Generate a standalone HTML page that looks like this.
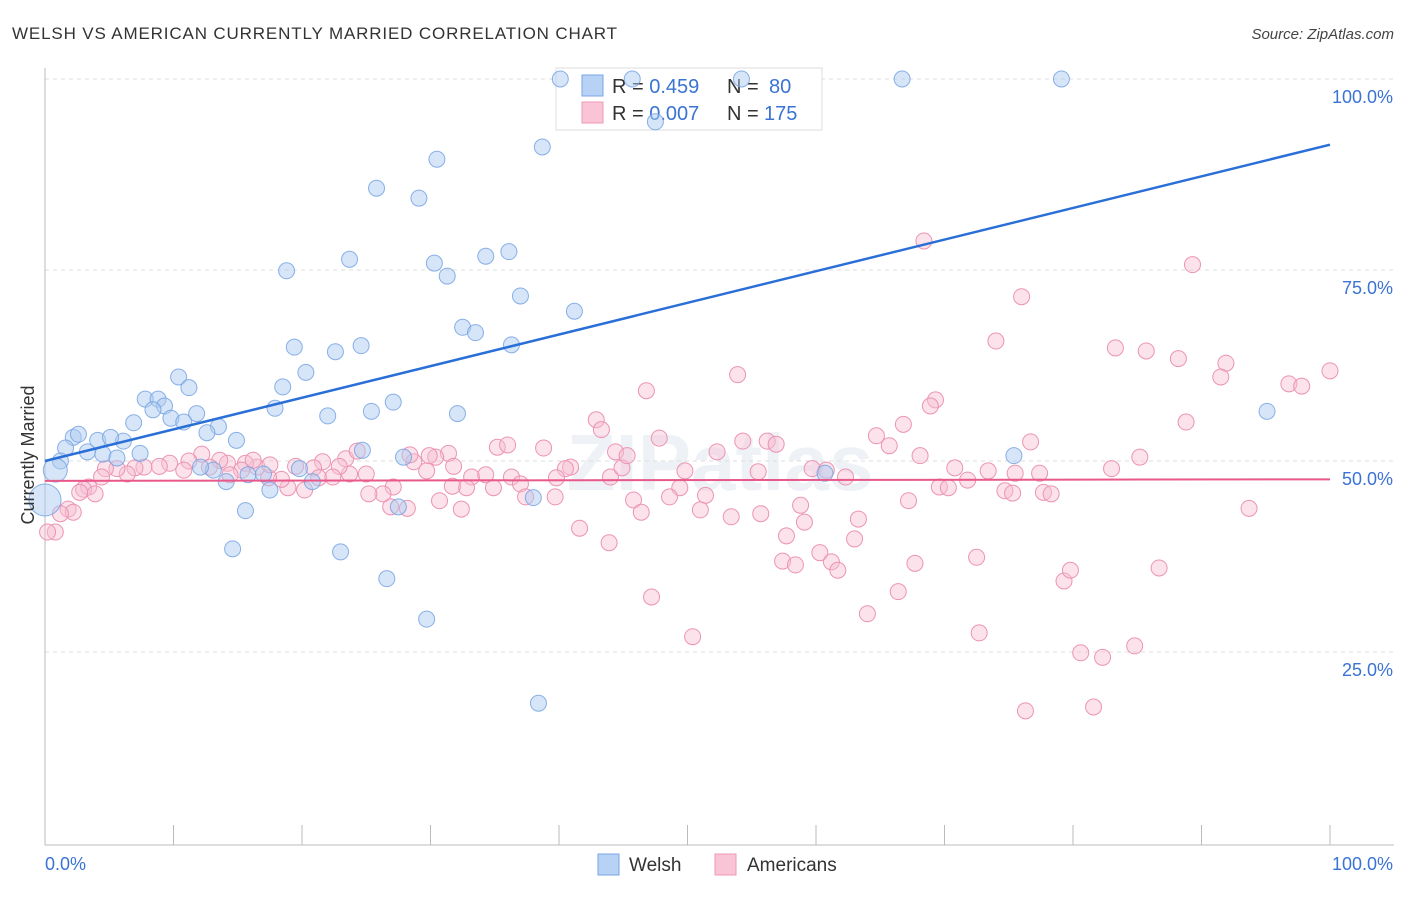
<!DOCTYPE html>
<html><head><meta charset="utf-8"><style>
body{margin:0;background:#fff;font-family:"Liberation Sans",sans-serif;}
svg text{font-family:"Liberation Sans",sans-serif;}
</style></head><body>
<svg id="chart" width="1406" height="892" xmlns="http://www.w3.org/2000/svg">
<text x="12" y="39" font-size="17" fill="#333" textLength="605" lengthAdjust="spacing">WELSH VS AMERICAN CURRENTLY MARRIED CORRELATION CHART</text>
<text x="1394" y="39" font-size="15" fill="#444" text-anchor="end" font-style="italic">Source: ZipAtlas.com</text>
<text x="720" y="490" font-size="80" fill="#dfe6ef" text-anchor="middle" font-weight="bold" opacity="0.5">ZIPatlas</text>
<g id="grid"></g>
<g id="axes"></g>
<g>
<rect x="556" y="68" width="266" height="62" fill="#fff" stroke="#ddd"/>
<rect x="582" y="75" width="21" height="21" fill="#b7d2f4" stroke="#7aa6e6"/>
<rect x="582" y="102" width="21" height="21" fill="#f9c4d5" stroke="#ee9ab6"/>
<text x="612" y="93" font-size="20" fill="#333">R = <tspan fill="#3a73d4">0.459</tspan><tspan x="727">N = </tspan><tspan x="769" fill="#3a73d4">80</tspan></text>
<text x="612" y="120" font-size="20" fill="#333">R = <tspan fill="#3a73d4">0.007</tspan><tspan x="727">N = </tspan><tspan x="764" fill="#3a73d4">175</tspan></text>
</g>
<g id="pts"></g>
<g id="trend"></g>
<text transform="translate(34,455) rotate(-90)" font-size="18" fill="#333" text-anchor="middle">Currently Married</text>
<g>
<rect x="598" y="854" width="21" height="21" fill="#b7d2f4" stroke="#7aa6e6"/>
<text x="629" y="871" font-size="19" fill="#333">Welsh</text>
<rect x="715" y="854" width="21" height="21" fill="#f9c4d5" stroke="#ee9ab6"/>
<text x="747" y="871" font-size="19" fill="#333">Americans</text>
</g>
</svg>
<script>
const welshX=[40.1,45.7,54.2,66.7,79.1,47.5,38.7,30.5,25.8,29.1,18.8,23.7,30.3,31.3,34.3,36.1,37.0,41.2,32.5,33.5,36.3,19.4,22.6,24.6,20.3,18.5,10.4,11.2,7.8,8.8,9.3,8.4,9.8,11.8,6.9,10.8,13.5,12.6,14.9,17.9,22.0,25.4,27.1,32.1,24.7,6.1,4.1,5.1,2.2,2.6,1.6,3.3,4.5,5.6,7.4,1.2,0.8,0,13.1,12.1,14.1,15.8,17.0,17.5,19.8,20.8,15.6,14.6,23.0,26.6,29.7,27.5,27.9,38.0,38.4,60.7,75.4,95.1];
const welshY=[100,100,100,100,100,94.4,91.1,89.5,85.7,84.4,74.9,76.4,75.9,74.2,76.8,77.4,71.6,69.6,67.5,66.8,65.2,64.9,64.3,65.1,61.6,59.7,61.0,59.6,58.1,58.1,57.2,56.7,55.6,56.2,55.0,55.1,54.5,53.7,52.7,56.9,55.9,56.5,57.7,56.2,51.4,52.6,52.7,53.1,53.1,53.5,51.7,51.2,50.9,50.4,51.0,50.0,48.8,44.9,48.8,49.2,47.3,48.2,48.3,46.2,49.0,47.3,43.5,38.5,38.1,34.6,29.3,44.0,50.5,45.2,18.3,48.4,50.7,56.5];
const amerX=[68.4,89.3,76.0,74.0,83.3,85.7,88.2,91.9,100,91.5,96.8,97.8,53.9,46.8,69.3,68.9,66.8,88.8,42.9,43.3,64.7,65.7,47.8,54.3,56.2,56.9,76.7,68.1,85.2,83.0,70.8,73.4,75.5,77.4,59.7,60.8,62.3,55.5,52.3,49.8,49.4,51.4,48.6,45.8,44.0,44.9,40.9,40.5,44.4,45.3,38.8,35.2,36.0,31.4,30.4,28.7,29.7,31.8,33.2,34.3,36.3,37.0,37.4,39.7,34.9,32.8,31.7,30.7,32.4,28.2,26.9,27.1,26.3,25.2,25.0,23.7,23.4,24.3,22.9,21.6,20.9,20.2,18.9,18.4,17.4,16.5,15.6,15.3,14.2,13.6,12.8,12.2,11.2,10.8,9.7,8.9,7.7,7.0,6.4,5.6,4.7,4.4,3.4,3.0,3.9,2.7,1.8,2.2,1.2,0.8,0.2,14.4,16.2,17.5,19.5,21.3,22.4,28.4,29.9,39.8,41.6,43.9,46.4,47.2,50.4,51.0,53.4,55.7,57.7,59.1,58.8,57.4,58.4,60.3,61.2,61.7,63.0,63.3,64.0,66.4,67.2,67.7,69.6,70.3,71.8,72.5,72.7,74.7,75.3,76.3,77.7,78.3,79.3,79.8,80.6,81.6,82.3,84.8,86.7,93.7];
const amerY=[78.8,75.7,71.5,65.7,64.8,64.4,63.4,62.8,61.8,61.0,60.1,59.8,61.3,59.2,58.0,57.2,54.8,55.1,55.4,54.1,53.3,52.0,53.0,52.6,52.6,52.2,52.5,50.7,50.5,49.0,49.1,48.7,48.4,48.4,49.0,48.8,47.9,48.6,51.2,48.7,46.5,45.5,45.3,44.9,47.9,49.1,49.2,49.0,51.2,50.7,51.7,51.8,52.1,51.0,50.5,49.9,48.7,49.3,47.9,48.2,47.9,47.0,45.3,45.3,46.5,46.5,46.7,44.8,43.7,43.8,44.0,46.6,45.7,45.7,48.3,48.3,50.3,51.3,49.3,49.9,49.1,46.2,46.5,47.6,47.8,49.2,49.7,48.8,49.7,50.1,49.2,50.9,50.0,48.8,49.7,49.3,49.2,49.1,48.3,49.0,49.0,47.9,46.6,46.3,45.7,45.9,43.7,43.3,43.1,40.7,40.7,48.2,50.1,49.5,49.3,47.8,47.9,50.8,50.7,47.8,41.2,39.3,43.3,32.2,27.0,43.6,42.7,43.1,40.2,42.0,44.2,36.9,36.4,38.0,36.8,35.7,39.8,42.4,30.0,32.9,44.8,36.6,46.6,46.5,47.5,37.4,27.5,46.1,45.8,17.3,45.9,45.7,34.3,35.7,24.9,17.8,24.3,25.8,36.0,43.8];
const welshTrend=[50.0,91.4];
const amerTrend=[47.4,47.6];
const yTicks=[100,75,50,25];
const yTickLabels=["100.0%","75.0%","50.0%","25.0%"];
const xTickLabels=["0.0%","100.0%"];

const NS="http://www.w3.org/2000/svg";
const X0=45,X1=1330,Y0=843,Y100=79;
const sx=v=>X0+(X1-X0)*v/100;
const sy=v=>Y0-(Y0-Y100)*v/100;
function mk(tag,attrs,parent){const e=document.createElementNS(NS,tag);for(const k in attrs)e.setAttribute(k,attrs[k]);parent.appendChild(e);return e;}
const grid=document.getElementById('grid'),axes=document.getElementById('axes'),pts=document.getElementById('pts'),trend=document.getElementById('trend');
yTicks.forEach((t,i)=>{
  const l=mk('line',{x1:X0,x2:1394,y1:sy(t),y2:sy(t),stroke:'#dcdcdc','stroke-dasharray':'4,4'},grid);
  
  
  const tx=mk('text',{x:1393,y:sy(t)+24,'font-size':18,fill:'#3a73d4','text-anchor':'end'},axes);
  tx.textContent=yTickLabels[i];
  
  
});
const ax=mk('line',{x1:X0,x2:X0,y1:68,y2:845,stroke:'#bbb'},axes);


const bx=mk('line',{x1:X0,x2:1394,y1:845,y2:845,stroke:'#bbb'},axes);


for(let i=0;i<=10;i++){
  const t=mk('line',{x1:sx(i*10),x2:sx(i*10),y1:825,y2:845,stroke:'#bbb'},axes);
  
  
}
[[0,'start',45],[100,'end',1393]].forEach((d,i)=>{
  const t=mk('text',{x:d[2],y:870,'font-size':18,fill:'#3a73d4','text-anchor':d[1]},axes);
  t.textContent=xTickLabels[i];
  
  
});
amerX.forEach((x,i)=>{
  const c=mk('circle',{cx:sx(x),cy:sy(amerY[i]),r:8,fill:'#f7bfd2','fill-opacity':0.45,stroke:'#ec94b3','stroke-width':1},pts);
  
  
});
welshX.forEach((x,i)=>{
  const r=(x===0)?16:(x<1?12:8);
  const c=mk('circle',{cx:sx(x),cy:sy(welshY[i]),r:r,fill:'#aecbf0','fill-opacity':0.5,stroke:'#6f9fe2','stroke-width':1,'stroke-opacity':0.8},pts);
  
  
});
const t1=mk('line',{x1:sx(0),y1:sy(welshTrend[0]),x2:sx(100),y2:sy(welshTrend[1]),stroke:'#2a6fd8','stroke-width':2.5},trend);


const t2=mk('line',{x1:sx(0),y1:sy(amerTrend[0]),x2:sx(100),y2:sy(amerTrend[1]),stroke:'#e8588a','stroke-width':2},trend);


</script>
</body></html>
